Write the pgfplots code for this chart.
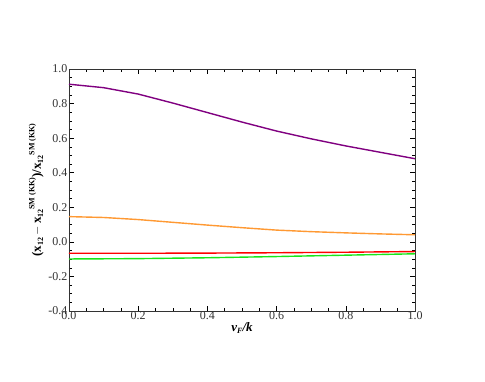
\documentclass[border=0pt]{standalone}
\usepackage{pgfplots}
\pgfplotsset{compat=1.18}
\usepackage{fontspec}
\setmainfont{Liberation Serif}
\definecolor{mpurple}{rgb}{0.5,0,0.5}
\definecolor{morange}{rgb}{1,0.6,0.2}
\definecolor{mred}{rgb}{1,0,0}
\definecolor{mgreen}{rgb}{0.1,0.9,0.1}
\begin{document}
\begin{tikzpicture}
\useasboundingbox (-69pt,-70pt) rectangle (416pt,311pt);
\begin{axis}[
  at={(0pt,0pt)}, anchor=south west,
  scale only axis,
  width=346pt, height=242pt,
  xmin=0, xmax=1, ymin=-0.4, ymax=1.0,
  xtick={0,0.2,...,1.0},
  ytick={-0.4,-0.2,...,1.0},
  minor x tick num=3, minor y tick num=3,
  tick align=inside,
  major tick length=5pt, minor tick length=3pt,
  tick style={black, line width=0.5pt},
  xticklabel pos=lower, yticklabel pos=left,
  xtick pos=both, ytick pos=both,
  /pgf/number format/assume math mode=true,
  /pgf/number format/fixed, /pgf/number format/fixed zerofill,
  /pgf/number format/precision=1,
  ticklabel style={font=\fontsize{12}{14}\selectfont, black!80},
  xticklabel style={yshift=3pt},
  yticklabel style={xshift=2pt},
  axis line style={black!80, line width=0.9pt},
  xlabel={\textbf{\textit{v}\raisebox{-0.35ex}{\footnotesize\textit{F}}\textit{/k}}},
  ylabel={\bfseries (x\raisebox{-0.4ex}{\footnotesize 12}\,$-$\,x\raisebox{-0.4ex}{\footnotesize 12}\raisebox{1.1ex}{\footnotesize SM (KK)})/x\raisebox{-0.4ex}{\footnotesize 12}\raisebox{1.1ex}{\footnotesize SM (KK)}},
  label style={font=\fontsize{13}{15}\selectfont},
  xlabel style={yshift=4pt},
  ylabel style={yshift=-2pt},
  every axis plot/.append style={line width=1.4pt},
]
\addplot[mpurple] coordinates {
  (0,0.912) (0.1,0.892) (0.2,0.855) (0.3,0.803) (0.4,0.748) (0.5,0.693)
  (0.6,0.641) (0.7,0.596) (0.8,0.555) (0.9,0.518) (1.0,0.481)
};
\addplot[morange] coordinates {
  (0,0.146) (0.1,0.141) (0.2,0.129) (0.3,0.113) (0.4,0.097) (0.5,0.082)
  (0.6,0.068) (0.7,0.059) (0.8,0.052) (0.9,0.046) (1.0,0.041)
};
\addplot[mred] coordinates {
  (0,-0.066) (0.2,-0.066) (0.4,-0.065) (0.6,-0.063) (0.8,-0.060) (1.0,-0.056)
};
\addplot[mgreen] coordinates {
  (0,-0.099) (0.2,-0.097) (0.4,-0.092) (0.6,-0.085) (0.8,-0.077) (1.0,-0.069)
};
\end{axis}
\end{tikzpicture}
\end{document}
